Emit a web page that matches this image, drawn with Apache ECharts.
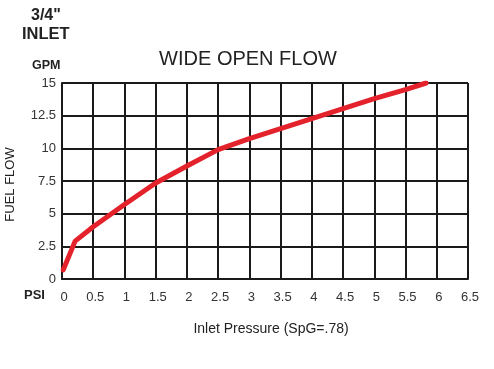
<!DOCTYPE html>
<html><head><meta charset="utf-8">
<script src="https://cdn.jsdelivr.net/npm/echarts@6/dist/echarts.min.js"></script>
<style>html,body{margin:0;padding:0;background:#fff}#c{width:494px;height:369px}</style>
</head><body><div id="c"></div>
<script>
const pressure = [0.02, 0.21, 0.5, 1.0, 1.5, 2.0, 2.5, 3.0, 3.5, 4.0, 4.5, 5.0, 5.5, 5.83];
const flow = [0.7, 2.9, 4.0, 5.7, 7.35, 8.65, 9.9, 10.75, 11.5, 12.27, 13.04, 13.8, 14.5, 15.0];
const xTicks = ['0','0.5','1','1.5','2','2.5','3','3.5','4','4.5','5','5.5','6','6.5'];
const yTicks = ['0','2.5','5','7.5','10','12.5','15'];

const chart = echarts.init(document.getElementById('c'));
const ff = 'Liberation Sans, Arial, sans-serif';
const tp = 0;
chart.setOption({
  animation: false,
  backgroundColor: '#fff',
  title: [
    {text: '3/4"', left: 31, top: 8, padding: tp, textStyle: {fontFamily: ff, fontSize: 16, fontWeight: 'bold', color: '#222'}},
    {text: 'INLET', left: 22, top: 26, padding: tp, textStyle: {fontFamily: ff, fontSize: 16.5, fontWeight: 'bold', color: '#222'}},
    {text: 'GPM', left: 32, top: 59, padding: tp, textStyle: {fontFamily: ff, fontSize: 12.5, fontWeight: 'bold', color: '#222'}},
    {text: 'WIDE OPEN FLOW', left: 248, top: 49, padding: tp, textAlign: 'center', textStyle: {fontFamily: ff, fontSize: 20, fontWeight: 'normal', color: '#222'}},
    {text: 'PSI', left: 24, top: 289, padding: tp, textStyle: {fontFamily: ff, fontSize: 13, fontWeight: 'bold', color: '#222'}}
  ],
  grid: {left: 62, right: 26, top: 83, bottom: 90, show: false, containLabel: false, outerBoundsMode: 'none'},
  xAxis: {
    type: 'value', min: 0, max: 6.5, interval: 0.5,
    name: 'Inlet Pressure (SpG=.78)', nameLocation: 'middle', nameGap: 43,
    nameTextStyle: {fontFamily: ff, fontSize: 14, color: '#222', padding: [0, 0, 0, 12]},
    axisLine: {show: true, lineStyle: {color: '#1a1a1a', width: 2}},
    axisTick: {show: false},
    axisLabel: {fontFamily: ff, fontSize: 13, color: '#333', margin: 12, padding: [0, 0, 0, 4],
      formatter: v => xTicks[Math.round(v / 0.5)]},
    splitLine: {show: true, lineStyle: {color: '#1a1a1a', width: 2}}
  },
  yAxis: {
    type: 'value', min: 0, max: 15, interval: 2.5,
    name: 'FUEL FLOW', nameLocation: 'middle', nameGap: 45, nameRotate: 90,
    nameTextStyle: {fontFamily: ff, fontSize: 13, color: '#222', padding: [0, 7, 0, 0]},
    axisLine: {show: true, lineStyle: {color: '#1a1a1a', width: 2}},
    axisTick: {show: false},
    axisLabel: {fontFamily: ff, fontSize: 13, color: '#333', margin: 6,
      formatter: v => yTicks[Math.round(v / 2.5)]},
    splitLine: {show: true, lineStyle: {color: '#1a1a1a', width: 2}}
  },
  series: [{
    type: 'line', data: pressure.map((p, i) => [p, flow[i]]),
    showSymbol: false, symbol: 'none', smooth: false,
    lineStyle: {color: '#e3222c', width: 5, cap: 'round', join: 'round'}
  }]
});
</script></body></html>
